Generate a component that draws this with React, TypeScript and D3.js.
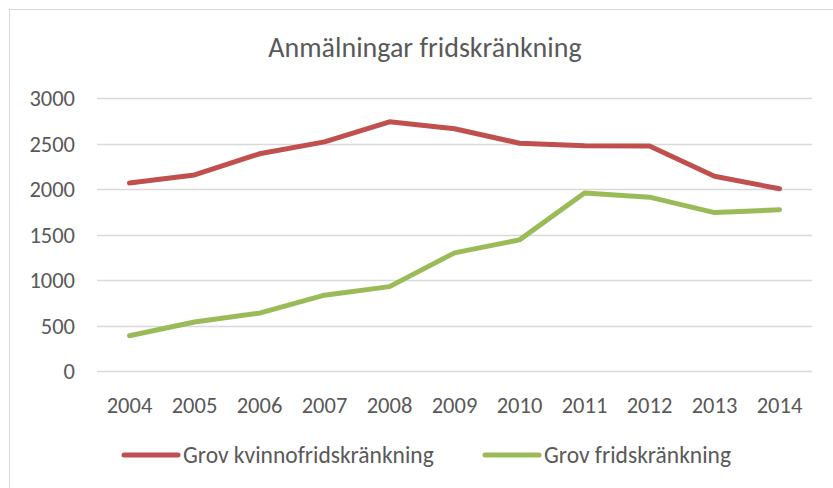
import { useEffect, useRef } from 'react';
import * as d3 from 'd3';

const years = ['2004', '2005', '2006', '2007', '2008', '2009', '2010', '2011', '2012', '2013', '2014'];
const grovKvinnofrid = [2065, 2155, 2387, 2518, 2738, 2662, 2503, 2475, 2472, 2140, 2002];
const grovFrid = [387, 539, 636, 833, 927, 1298, 1441, 1955, 1910, 1741, 1772];
const yTicks = [0, 500, 1000, 1500, 2000, 2500, 3000];

const series = [
  { name: 'Grov kvinnofridskränkning', values: grovKvinnofrid, color: '#C0504D' },
  { name: 'Grov fridskränkning', values: grovFrid, color: '#9BBB59' },
];

const FONT = 'Carlito, Lato, "Open Sans", sans-serif';
const TEXT = '#595959';

export default function App() {
  const svgRef = useRef<SVGSVGElement>(null);
  const width = 833;
  const height = 488;

  useEffect(() => {
    if (!svgRef.current) return;
    const svg = d3.select(svgRef.current);
    svg.selectAll('*').remove();

    const margin = { top: 98, right: 21, bottom: 117, left: 97 };

    const x = d3.scaleBand<string>()
      .domain(years)
      .range([margin.left, width - margin.right]);

    const y = d3.scaleLinear()
      .domain([0, 3000])
      .range([height - margin.bottom, margin.top]);

    // chart area border
    svg.append('rect')
      .attr('x', 9.5).attr('y', 9.5)
      .attr('width', width + 10).attr('height', height + 10)
      .attr('fill', '#fff')
      .attr('stroke', '#D9D9D9');

    svg.append('text')
      .attr('x', 425).attr('y', 57)
      .attr('text-anchor', 'middle')
      .attr('font-family', FONT)
      .attr('font-size', 28)
      .attr('fill', TEXT)
      .text('Anmälningar fridskränkning');

    // gridlines
    svg.append('g')
      .selectAll('line')
      .data(yTicks)
      .join('line')
      .attr('x1', margin.left).attr('x2', width - margin.right)
      .attr('y1', d => Math.round(y(d)) + 0.5).attr('y2', d => Math.round(y(d)) + 0.5)
      .attr('stroke', '#D9D9D9')
      .attr('stroke-width', 1.3);

    svg.append('g')
      .selectAll('text')
      .data(yTicks)
      .join('text')
      .attr('x', 75)
      .attr('y', d => y(d))
      .attr('dy', '0.36em')
      .attr('text-anchor', 'end')
      .attr('font-family', FONT)
      .attr('font-size', 22.5)
      .attr('fill', TEXT)
      .text(d => d);

    svg.append('g')
      .selectAll('text')
      .data(years)
      .join('text')
      .attr('x', d => x(d)! + x.bandwidth() / 2)
      .attr('y', 413)
      .attr('text-anchor', 'middle')
      .attr('font-family', FONT)
      .attr('font-size', 22.5)
      .attr('fill', TEXT)
      .text(d => d);

    const line = d3.line<number>()
      .x((_, i) => x(years[i])! + x.bandwidth() / 2)
      .y(d => y(d));

    svg.append('g')
      .selectAll('path')
      .data(series)
      .join('path')
      .attr('d', d => line(d.values))
      .attr('fill', 'none')
      .attr('stroke', d => d.color)
      .attr('stroke-width', 5)
      .attr('stroke-linejoin', 'round')
      .attr('stroke-linecap', 'round');

    // legend
    const legendX = [124, 485];
    const legend = svg.append('g')
      .selectAll('g')
      .data(series)
      .join('g')
      .attr('transform', (_, i) => `translate(${legendX[i]},455)`);

    legend.append('line')
      .attr('x1', 0).attr('x2', 54)
      .attr('stroke', d => d.color)
      .attr('stroke-width', 5)
      .attr('stroke-linecap', 'round');

    legend.append('text')
      .attr('x', 59)
      .attr('dy', '0.36em')
      .attr('font-family', FONT)
      .attr('font-size', 23.5)
      .attr('fill', TEXT)
      .text(d => d.name);
  }, []);

  return (
    <div style={{ position: 'fixed', left: 0, top: 0, background: '#fff' }}>
      <svg ref={svgRef} width={width} height={height} style={{ display: 'block' }} />
    </div>
  );
}
